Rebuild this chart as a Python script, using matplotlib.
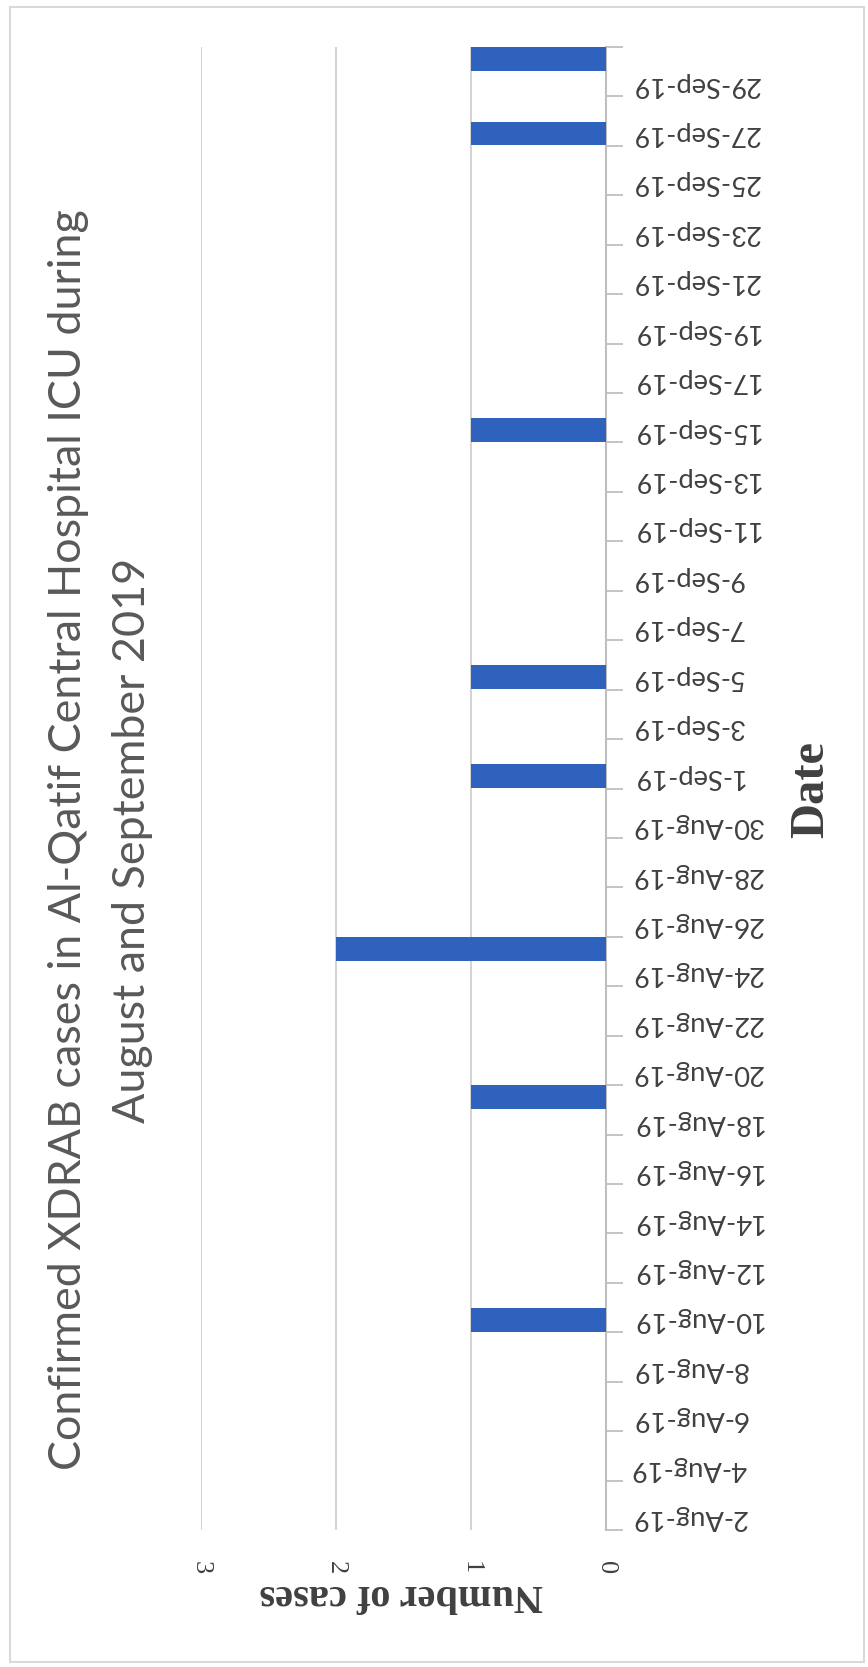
import datetime as dt
import matplotlib
matplotlib.use("Agg")
import matplotlib.pyplot as plt
import matplotlib.dates as mdates
from matplotlib.patches import Rectangle

# ---- data ----
case_dates = ["2019-08-10", "2019-08-19", "2019-08-25", "2019-09-01",
              "2019-09-05", "2019-09-15", "2019-09-27", "2019-09-30"]
case_counts = [1, 1, 2, 1, 1, 1, 1, 1]
value_ticks = [0, 1, 2, 3]
first_day = "2019-08-02"
last_day = "2019-09-30"
title_line1 = "Confirmed XDRAB cases in Al-Qatif Central Hospital ICU during"
title_line2 = "August and September 2019"
x_title = "Number of cases"
y_title = "Date"

W, H = 868, 1667
fig = plt.figure(figsize=(W / 100, H / 100), dpi=100)
fig.patch.set_facecolor("white")

ax = fig.add_axes([201 / W, 1 - 1530 / H, (606 - 201) / W, (1530 - 47) / H])

d0 = dt.date.fromisoformat(first_day)
d1 = dt.date.fromisoformat(last_day)
ys = [mdates.date2num(dt.date.fromisoformat(s)) for s in case_dates]
n0 = mdates.date2num(d0)
n1 = mdates.date2num(d1)

ax.barh(ys, case_counts, height=0.97, color="#2f62bd", zorder=3)
ax.set_xlim(3, 0)
ax.set_ylim(n0 - 0.5, n1 + 0.5)

# value axis
ax.set_xticks(value_ticks)
ax.set_xticklabels([str(v) for v in value_ticks], rotation=-90,
                   fontfamily="Liberation Serif", fontsize=19, color="#404040")
ax.tick_params(axis="x", length=0, pad=22)
ax.grid(axis="x", color="#d4d4d4", linewidth=1.5, zorder=0)

# date axis on the right
label_days = []
d = d0
while d <= d1 - dt.timedelta(days=1):
    label_days.append(d)
    d += dt.timedelta(days=2)
ax.yaxis.tick_right()
ax.set_yticks([mdates.date2num(x) for x in label_days])
ax.set_yticklabels([f"{x.day}-{x.strftime('%b')}-19" for x in label_days],
                   rotation=180, ha="left", va="center",
                   fontfamily="Lato", fontsize=19.7, color="#404040")
ax.tick_params(axis="y", which="major", length=0, pad=18)
minor = [n0 - 0.5 + 2 * k for k in range(0, 31)]
ax.set_yticks(minor, minor=True)
ax.tick_params(axis="y", which="minor", length=12, width=1.3, color="#bfbfbf",
               right=True, left=False)

for s in ["top", "bottom", "left"]:
    ax.spines[s].set_visible(False)
ax.spines["right"].set_color("#bfbfbf")
ax.spines["right"].set_linewidth(1.5)

# titles
fig.text(69 / W, 1 - 840 / H, title_line1, rotation=90, ha="center", va="center",
         fontfamily="Lato", fontsize=32.3, color="#595959")
fig.text(133 / W, 1 - 840 / H, title_line2, rotation=90, ha="center", va="center",
         fontfamily="Lato", fontsize=32.3, color="#595959")
fig.text(401 / W, 1 - 1594 / H, x_title, rotation=180, ha="center", va="center",
         fontfamily="Liberation Serif", fontweight="bold", fontsize=29, color="#404040")
fig.text(811 / W, 1 - 789 / H, y_title, rotation=90, ha="center", va="center",
         fontfamily="Liberation Serif", fontweight="bold", fontsize=35, color="#404040")

# outer border
fig.patches.append(Rectangle((10 / W, 5 / H), 854 / W, 1655 / H, transform=fig.transFigure,
                             fill=False, edgecolor="#d9d9d9", linewidth=1.5))

fig.savefig("out.png", dpi=100, facecolor="white")
